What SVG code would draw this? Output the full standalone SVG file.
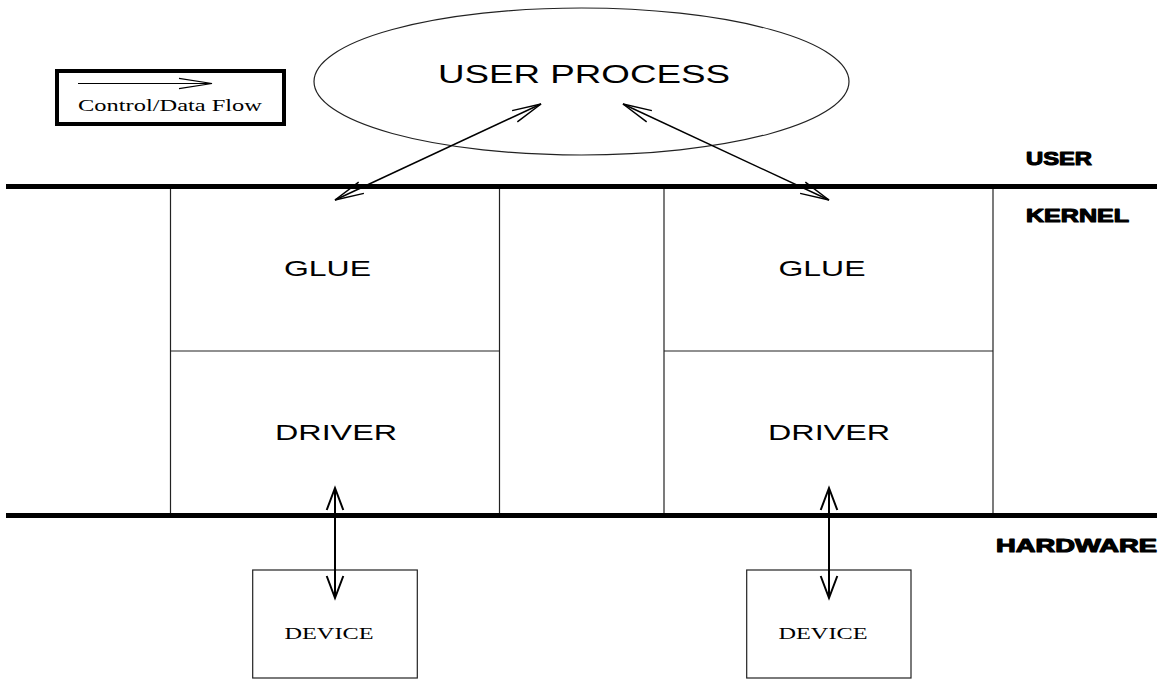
<svg xmlns="http://www.w3.org/2000/svg" width="1160" height="681" viewBox="0 0 1160 681">
  <defs>
    <style>
      .thin { fill: none; stroke: #222; stroke-width: 1.2; }
      .rule { stroke: #000; stroke-width: 5; }
      .sans { font-family: "Liberation Sans", Arial, sans-serif; fill: #000; }
      .serif { font-family: "Liberation Serif", "Times New Roman", serif; fill: #000; }
      .layer { font-family: "Liberation Sans", Arial, sans-serif; font-weight: bold; fill: #000; stroke: #000; stroke-width: 1.1; stroke-linejoin: round; }
      .flow { fill: none; stroke: #000; }
    </style>
    <!-- open "V" arrowheads of a few sizes -->
    <marker id="veeBig" viewBox="0 0 24 20" refX="22" refY="10" markerWidth="24" markerHeight="20" markerUnits="userSpaceOnUse" orient="auto-start-reverse" overflow="visible">
      <path d="M0,1.7 L22,10 L0,18.3" fill="none" stroke="#000" stroke-width="2"/>
    </marker>
    <marker id="veeDiag" viewBox="0 0 30 14" refX="29" refY="7" markerWidth="30" markerHeight="14" markerUnits="userSpaceOnUse" orient="auto-start-reverse" overflow="visible">
      <path d="M0,0.8 L29,7 L0,13.2" fill="none" stroke="#000" stroke-width="1.5"/>
    </marker>
    <marker id="veeLegend" viewBox="0 0 34 12" refX="33" refY="6" markerWidth="34" markerHeight="12" markerUnits="userSpaceOnUse" orient="auto" overflow="visible">
      <path d="M0,0.8 L33,6 L0,11.2" fill="none" stroke="#000" stroke-width="1.2"/>
    </marker>
  </defs>

  <rect width="1160" height="681" fill="#fff"/>

  <!-- legend -->
  <g id="legend">
    <rect x="57" y="71" width="227" height="53" fill="none" stroke="#000" stroke-width="4"/>
    <line class="flow" x1="78" y1="83.5" x2="212" y2="83.5" stroke-width="1.2" marker-end="url(#veeLegend)"/>
    <text class="serif" x="78" y="110.7" font-size="16.5" textLength="184" lengthAdjust="spacingAndGlyphs">Control/Data Flow</text>
  </g>

  <!-- user process -->
  <g id="user-process">
    <ellipse cx="581.5" cy="81.5" rx="267.5" ry="73.5" class="thin" stroke-width="1"/>
    <text class="sans" x="584" y="83" font-size="26" text-anchor="middle" textLength="292" lengthAdjust="spacingAndGlyphs">USER PROCESS</text>
  </g>

  <!-- boundary rules -->
  <g id="boundaries">
    <line class="rule" x1="6" y1="186.5" x2="1157" y2="186.5"/>
    <line class="rule" x1="6" y1="515.5" x2="1157" y2="515.5"/>
  </g>

  <!-- layer labels -->
  <g id="layer-labels">
    <text class="layer" x="1026" y="165" font-size="18.5" textLength="66" lengthAdjust="spacingAndGlyphs">USER</text>
    <text class="layer" x="1026" y="221.5" font-size="18.5" textLength="103" lengthAdjust="spacingAndGlyphs">KERNEL</text>
    <text class="layer" x="996" y="551.5" font-size="18.5" textLength="161" lengthAdjust="spacingAndGlyphs">HARDWARE</text>
  </g>

  <!-- left kernel stack -->
  <g id="stack-left">
    <line class="thin" x1="170.5" y1="189" x2="170.5" y2="513"/>
    <line class="thin" x1="499.5" y1="189" x2="499.5" y2="513"/>
    <line class="thin" x1="170.5" y1="351" x2="499.5" y2="351"/>
    <text class="sans" x="327.5" y="276" font-size="22" text-anchor="middle" textLength="87" lengthAdjust="spacingAndGlyphs">GLUE</text>
    <text class="sans" x="336" y="440" font-size="22" text-anchor="middle" textLength="122" lengthAdjust="spacingAndGlyphs">DRIVER</text>
  </g>

  <!-- right kernel stack -->
  <g id="stack-right">
    <line class="thin" x1="664" y1="189" x2="664" y2="513"/>
    <line class="thin" x1="993" y1="189" x2="993" y2="513"/>
    <line class="thin" x1="664" y1="351" x2="993" y2="351"/>
    <text class="sans" x="822" y="276" font-size="22" text-anchor="middle" textLength="87" lengthAdjust="spacingAndGlyphs">GLUE</text>
    <text class="sans" x="829" y="440" font-size="22" text-anchor="middle" textLength="122" lengthAdjust="spacingAndGlyphs">DRIVER</text>
  </g>

  <!-- devices -->
  <g id="device-left">
    <rect x="252.7" y="570" width="164.6" height="108" class="thin"/>
    <text class="serif" x="329" y="639" font-size="16.5" text-anchor="middle" textLength="89" lengthAdjust="spacingAndGlyphs">DEVICE</text>
  </g>
  <g id="device-right">
    <rect x="746.7" y="570" width="164.3" height="108" class="thin"/>
    <text class="serif" x="823" y="639" font-size="16.5" text-anchor="middle" textLength="89" lengthAdjust="spacingAndGlyphs">DEVICE</text>
  </g>

  <!-- control / data flow connectors -->
  <g id="connectors">
    <line class="flow" x1="541" y1="104" x2="335" y2="200" stroke-width="1.5" marker-start="url(#veeDiag)" marker-end="url(#veeDiag)"/>
    <line class="flow" x1="623" y1="104" x2="829" y2="200" stroke-width="1.5" marker-start="url(#veeDiag)" marker-end="url(#veeDiag)"/>
    <line class="flow" x1="335" y1="488" x2="335" y2="598" stroke-width="2" marker-start="url(#veeBig)" marker-end="url(#veeBig)"/>
    <line class="flow" x1="829" y1="488" x2="829" y2="598" stroke-width="2" marker-start="url(#veeBig)" marker-end="url(#veeBig)"/>
  </g>
</svg>
